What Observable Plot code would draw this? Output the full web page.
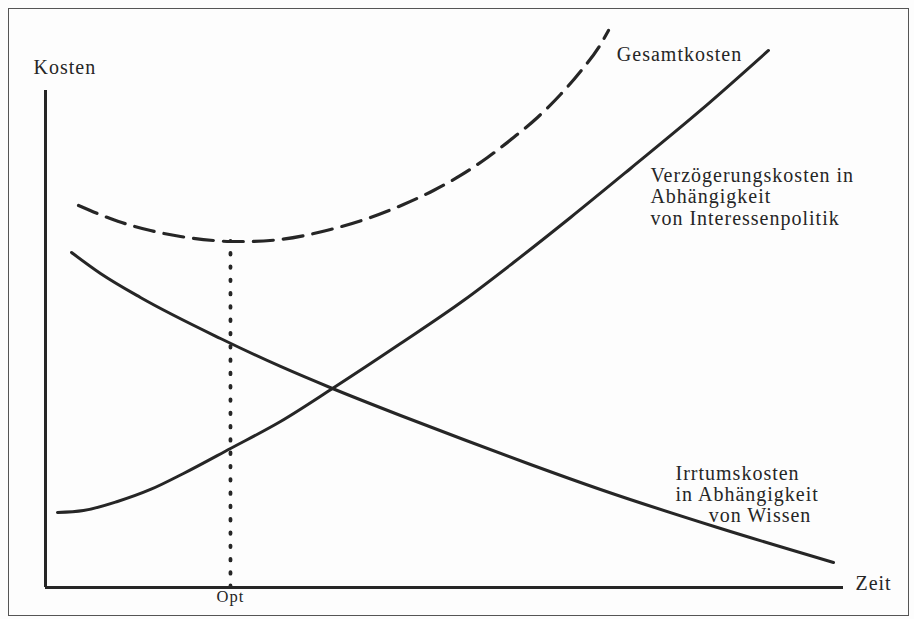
<!DOCTYPE html>
<html>
<head>
<meta charset="utf-8">
<script src="https://cdn.jsdelivr.net/npm/d3@7"></script>
<script src="https://cdn.jsdelivr.net/npm/@observablehq/plot@0.6"></script>
<style>
  html, body { margin: 0; padding: 0; background: #fdfdfd; }
  #frame { position: absolute; left: 8px; top: 8px; width: 901px; height: 608px; border: 1.5px solid #555; box-sizing: border-box; }
  #chart { position: absolute; left: 0; top: 0; }
  #chart svg text { letter-spacing: 1px; }
</style>
</head>
<body>
<div id="frame"></div>
<div id="chart"></div>
<script>
// Abstract units: Zeit (x) 0..100, Kosten (y) 0..100
const verzX = [1.5, 4.76, 9.02, 13.16, 17.29, 23.18, 29.45, 35.96, 44.49, 52.38, 58.65, 65.79, 73.31, 82.08, 90.6];
const verzY = [15.09, 15.49, 17.3, 19.72, 22.94, 27.97, 33.4, 40.04, 49.09, 57.75, 65.39, 74.45, 84.31, 95.98, 108.05];

const irrX = [3.26, 6.89, 11.9, 21.93, 29.45, 35.96, 44.49, 52.38, 60.78, 69.55, 84.21, 98.75];
const irrY = [67.4, 63.18, 58.35, 50.1, 44.47, 40.04, 34.61, 29.78, 24.75, 19.72, 12.07, 5.03];

const gesX = [4.14, 9.15, 13.16, 16.92, 21.05, 23.18, 25.31, 29.45, 35.71, 40.73, 44.86, 48.62, 52.01, 55.39, 58.65, 61.65, 64.54, 67.04, 69.55, 70.55];
const gesY = [76.86, 73.64, 71.83, 70.62, 69.82, 69.62, 69.62, 70.02, 72.03, 74.45, 77.06, 79.88, 82.9, 86.52, 90.54, 94.57, 99.2, 103.82, 109.26, 112.07];

const optX = 23.18;  // Optimum (Zeit)
const optY = 69.62;  // Minimum der Gesamtkosten

const yLabel = ["Kosten"];
const xLabel = ["Zeit"];
const optLabel = ["Opt"];
const gesLabel = ["Gesamtkosten"];
const verzLabel = ["Verzögerungskosten in", "Abhängigkeit", "von Interessenpolitik"];
const irrLabel = ["Irrtumskosten", "in Abhängigkeit", "von Wissen"];

const toPts = (xs, ys) => xs.map((x, i) => ({x, y: ys[i]}));
const verz = toPts(verzX, verzY);
const irr = toPts(irrX, irrY);
const ges = toPts(gesX, gesY);

const ink = "#262626";
const chart = Plot.plot({
  width: 914,
  height: 619,
  marginLeft: 45,
  marginRight: 71,
  marginTop: 90,
  marginBottom: 32,
  x: {domain: [0, 100], axis: null},
  y: {domain: [0, 100], axis: null},
  style: {fontFamily: "'Liberation Serif', serif", background: "transparent", color: ink, overflow: "visible"},
  marks: [
    Plot.ruleX([optX], {y1: 0, y2: optY, stroke: ink, strokeWidth: 3.8, strokeDasharray: "1.5,11.8", strokeLinecap: "round"}),
    Plot.ruleY([0], {x1: 0, x2: 100, stroke: ink, strokeWidth: 3}),
    Plot.ruleX([0], {y1: 0, y2: 100, stroke: ink, strokeWidth: 3}),
    Plot.line(verz, {x: "x", y: "y", curve: "monotone-x", stroke: ink, strokeWidth: 3}),
    Plot.line(irr, {x: "x", y: "y", curve: "monotone-x", stroke: ink, strokeWidth: 3}),
    Plot.line(ges, {x: "x", y: "y", curve: "monotone-x", stroke: ink, strokeWidth: 3.2, strokeDasharray: "20,10"}),
    Plot.text(yLabel, {x: -1.5, y: 104.6, text: d => d, textAnchor: "start", fontSize: 20, fill: ink}),
    Plot.text(xLabel, {x: 101.5, y: 0.7, text: d => d, textAnchor: "start", fontSize: 20, fill: ink}),
    Plot.text(optLabel, {x: optX, y: -0.6, text: d => d, textAnchor: "middle", lineAnchor: "top", fontSize: 16.5, fill: ink}),
    Plot.text(gesLabel, {x: 71.6, y: 107.3, text: d => d, textAnchor: "start", fontSize: 20, fill: ink}),
    Plot.text([verzLabel.join("\n")], {x: 75.8, y: 84.75, text: d => d, textAnchor: "start", lineAnchor: "top", lineHeight: 1.075, fontSize: 20, fill: ink}),
    Plot.text([irrLabel.slice(0, 2).join("\n")], {x: 78.95, y: 24.6, text: d => d, textAnchor: "start", lineAnchor: "top", lineHeight: 1.05, fontSize: 20, fill: ink}),
    Plot.text([irrLabel[2]], {x: 83.1, y: 16.1, text: d => d, textAnchor: "start", lineAnchor: "top", fontSize: 20, fill: ink})
  ]
});
document.getElementById("chart").appendChild(chart);
</script>
</body>
</html>
